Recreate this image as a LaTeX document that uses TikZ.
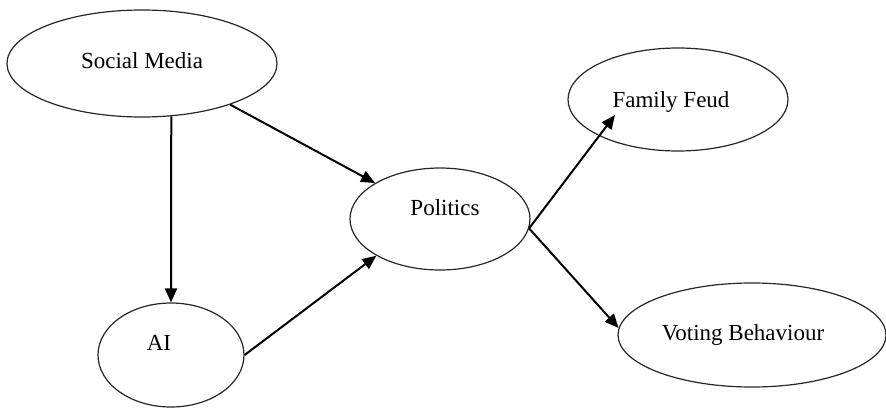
\documentclass[tikz,border=0pt]{standalone}
\usepackage{fontspec}
\setmainfont{Liberation Serif}
\usetikzlibrary{arrows.meta,shapes.geometric}

\begin{document}
\begin{tikzpicture}[
    x=1pt,
    y=-1pt,
    font=\fontsize{23}{27}\selectfont,
    bubble/.style={ellipse, draw=black!85, line width=1.2pt, fill=white, inner sep=0pt},
    tag/.style={inner sep=0pt, font=\fontsize{23}{27}\selectfont},
    arr/.style={-{Triangle[length=14pt,width=12pt]}, line width=2pt}
  ]
    \useasboundingbox (0,0) rectangle (886,407);

    \node[bubble, minimum width=270pt, minimum height=107pt, label={[tag,yshift=3pt]center:Social Media}] (social) at (142,63.5) {};
    \node[bubble, minimum width=180pt, minimum height=102pt, label={[tag,xshift=5pt,yshift=11pt]center:Politics}] (politics) at (440,219) {};
    \node[bubble, minimum width=146pt, minimum height=104pt, label={[tag,xshift=-12pt,yshift=12pt]center:AI}] (ai) at (171,355) {};
    \node[bubble, minimum width=220pt, minimum height=103pt, label={[tag,xshift=-7pt,yshift=-2.5pt]center:Family Feud}] (feud) at (678,99.5) {};
    \node[bubble, minimum width=268pt, minimum height=104pt, label={[tag,xshift=-9pt]center:Voting Behaviour}] (voting) at (752,335) {};

    \draw[arr] (social.-61) -- (ai.north);
    \draw[arr] (social.-25) -- (politics.151);
    \draw[arr] (ai.east) -- (politics.-150);
    \draw[arr] (politics.-6) -- ([shift={(-63,15.5)}]feud.center);
    \draw[arr] (politics.-6) -- (voting.177);
  \end{tikzpicture}
\end{document}
